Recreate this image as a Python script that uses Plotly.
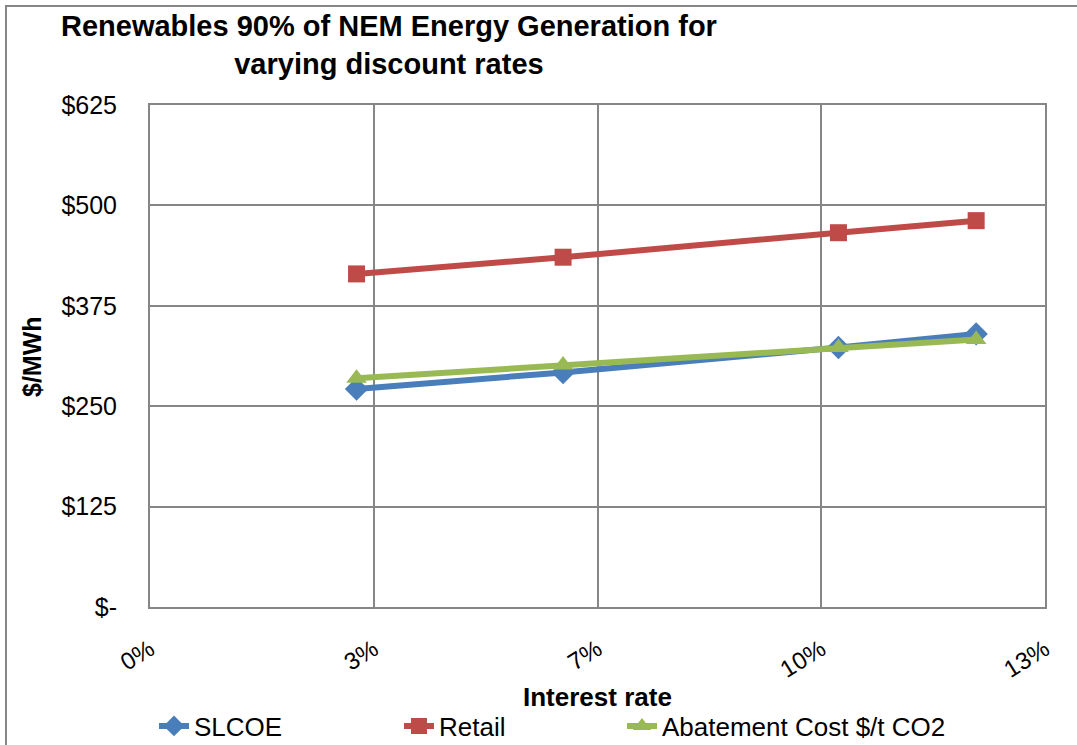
import plotly.graph_objects as go

interest = [0.03, 0.06, 0.10, 0.12]
slcoe = [271.5, 292, 323, 340]
retail = [414.7, 435.5, 466, 481]
abatement = [284.8, 301.4, 323, 333]

x_tickvals = [0, 0.0325, 0.065, 0.0975, 0.13]
x_ticktext = ["0%", "3%", "7%", "10%", "13%"]
y_tickvals = [0, 125, 250, 375, 500, 625]
y_ticktext = ["$-", "$125", "$250", "$375", "$500", "$625"]

FONT = "Liberation Sans, Arial, sans-serif"
W, H = 1077, 745
L, R, T, B = 150, 32, 105, 138
pw, ph = W - L - R, H - T - B


def px_x(p):
    return (p - L) / pw


def px_y(p):
    return (H - B - p) / ph


fig = go.Figure()
series = [
    ("SLCOE", slcoe, "#4A7EBB", "diamond", 18, "legend", 154),
    ("Retail", retail, "#BE4B48", "square", 17, "legend2", 399),
    ("Abatement Cost $/t CO2", abatement, "#98B954", "triangle-up", 18, "legend3", 622),
]
legends = {}
for name, vals, col, sym, sz, lg, lx in series:
    fig.add_trace(go.Scatter(
        x=interest, y=vals, name=name, mode="lines+markers",
        line=dict(color=col, width=6),
        marker=dict(symbol=sym, size=sz, color=col),
        legend=lg,
    ))
    legends[lg] = dict(x=px_x(lx), xanchor="left", y=px_y(726), yanchor="middle",
                       font=dict(size=26, family=FONT, color="black"),
                       bgcolor="rgba(0,0,0,0)", borderwidth=0, itemwidth=30)

grid = "#868686"
fig.update_layout(
    width=W, height=H,
    margin=dict(l=L, r=R, t=T, b=B, autoexpand=False),
    paper_bgcolor="white", plot_bgcolor="white",
    font=dict(family=FONT, size=25, color="black"),
    showlegend=True,
    **legends,
    xaxis=dict(range=[0, 0.13], tickvals=x_tickvals, ticktext=x_ticktext, tickangle=-32,
               tickfont=dict(size=24), automargin=False,
               showgrid=True, gridcolor=grid, gridwidth=2, showline=True, linecolor=grid,
               linewidth=2, mirror=True, ticks="outside", ticklen=17,
               tickcolor="rgba(0,0,0,0)", zeroline=False),
    yaxis=dict(range=[0, 625], tickvals=y_tickvals, ticktext=y_ticktext,
               tickfont=dict(size=25), automargin=False,
               showgrid=True, gridcolor=grid, gridwidth=2, showline=True, linecolor=grid,
               linewidth=2, mirror=True, ticks="outside", ticklen=26,
               tickcolor="rgba(0,0,0,0)", zeroline=False),
)

fig.add_annotation(
    text="<b>Renewables 90% of NEM Energy Generation for<br>varying discount rates</b>",
    xref="paper", yref="paper", x=px_x(389), y=px_y(45),
    xanchor="center", yanchor="middle", showarrow=False,
    font=dict(size=29, family=FONT), align="center",
)
fig.add_annotation(
    text="<b>Interest rate</b>", xref="paper", yref="paper",
    x=px_x(597), y=px_y(697), xanchor="center", yanchor="middle",
    showarrow=False, font=dict(size=26, family=FONT),
)
fig.add_annotation(
    text="<b>$/MWh</b>", xref="paper", yref="paper", textangle=-90,
    x=px_x(32), y=px_y(357), xanchor="center", yanchor="middle",
    showarrow=False, font=dict(size=25, family=FONT),
)

fig.add_shape(type="rect", xref="paper", yref="paper",
              x0=px_x(6), x1=px_x(1085), y0=px_y(760), y1=px_y(6),
              line=dict(color=grid, width=2), layer="below")

fig.write_html("out.html")
